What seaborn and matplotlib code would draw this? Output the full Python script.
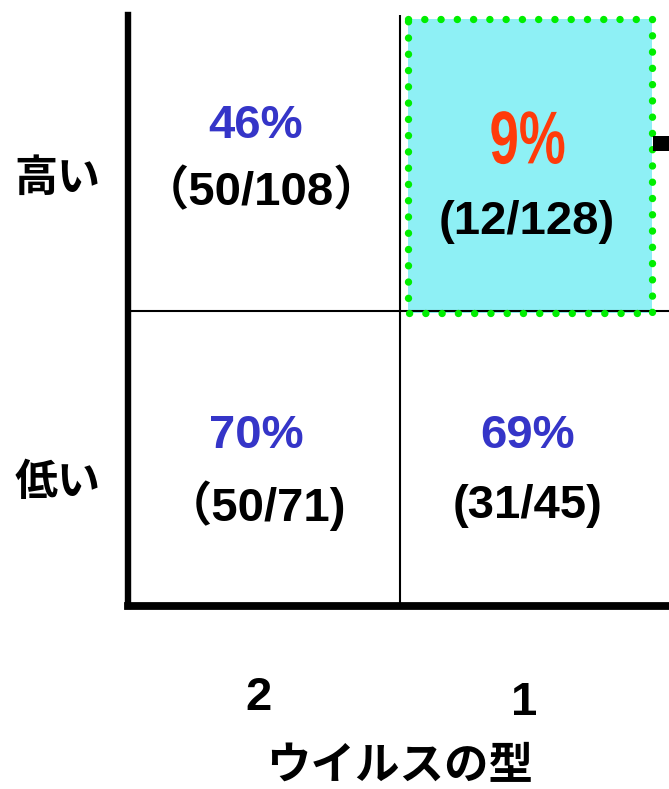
import numpy as np
import pandas as pd
import matplotlib
matplotlib.use("Agg")
import matplotlib.pyplot as plt
import seaborn as sns
from matplotlib.colors import ListedColormap
from matplotlib.patches import Rectangle, PathPatch
from matplotlib.textpath import TextPath
from matplotlib.font_manager import FontProperties
from matplotlib.transforms import Affine2D, ScaledTranslation

# data
row_labels = ['高い', '低い']
col_labels = ['2', '1']
pct = [[46, 9], [70, 69]]
num = [[50, 12], [50, 31]]
den = [[108, 128], [71, 45]]
highlight = [[0, 1], [0, 0]]
xlabel = 'ウイルスの型'

sns.set_style("white")
plt.rcParams['font.family'] = ['Liberation Sans', 'Noto Sans CJK JP', 'DejaVu Sans']
plt.rcParams['text.color'] = 'black'

fig = plt.figure(figsize=(6.69, 7.89), dpi=100)
ax = fig.add_axes([128/669, 1-606/789, 544/669, 591/789])

grid = pd.DataFrame(np.zeros((2, 2)), index=row_labels, columns=col_labels)
sns.heatmap(grid, cmap=ListedColormap(['white']), cbar=False, ax=ax)


def narrow_text(ax, x, y, s, w_px, h_px, color):
    # condensed-looking text: glyph outline stretched to a given pixel box
    tp = TextPath((0, 0), s, size=100, prop=FontProperties(family='Liberation Sans', weight='bold'))
    ext = tp.get_extents()
    tr = (Affine2D().translate(-(ext.x0 + ext.x1) / 2, -(ext.y0 + ext.y1) / 2)
          .scale(w_px / ext.width, h_px / ext.height)
          + ScaledTranslation(x, y, ax.transData))
    ax.add_patch(PathPatch(tp, transform=tr, facecolor=color, edgecolor='none',
                           zorder=5, clip_on=False))


# highlighted cell
for i in range(2):
    for j in range(2):
        if highlight[i][j]:
            ax.add_patch(Rectangle((j + 0.03, i + 0.014), 0.896, 0.993,
                                   facecolor='#8ef0f5', edgecolor='none', zorder=1))
            ax.add_patch(Rectangle((j + 0.03, i + 0.014), 0.896, 0.993,
                                   facecolor='none', edgecolor='#00ee00', lw=5.3,
                                   linestyle=(0, (0.01, 2.2)), capstyle='round',
                                   zorder=4, clip_on=False))

# dividers
ax.axhline(1, color='black', lw=1.5, zorder=3)
ax.axvline(1, color='black', lw=1.5, zorder=3)

for side in ['top', 'right']:
    ax.spines[side].set_visible(False)
for side in ['left', 'bottom']:
    ax.spines[side].set_visible(True)
    ax.spines[side].set_color('black')
ax.spines['left'].set_linewidth(4.6)
ax.spines['bottom'].set_linewidth(5.6)

# cell texts
for i in range(2):
    for j in range(2):
        if highlight[i][j]:
            narrow_text(ax, j + 0.47, i + 0.415, f'{pct[i][j]}%', 73, 53, '#ff3b0a')
            ax.text(j + 0.467, i + 0.70, f'({num[i][j]}/{den[i][j]})', ha='center',
                    va='center', fontsize=34, fontweight='bold', zorder=5)
        else:
            if j == 0 and i == 0:
                cnt = f'（{num[i][j]}/{den[i][j]}）'
            elif j == 0:
                cnt = f'（{num[i][j]}/{den[i][j]})'
            else:
                cnt = f'({num[i][j]}/{den[i][j]})'
            ax.text(j + 0.47, i + 0.375 + 0.05 * i, f'{pct[i][j]}%', ha='center',
                    va='center', fontsize=34, fontweight='bold', color='#3535c8', zorder=5)
            ax.text(j + 0.49 - 0.02 * i, i + 0.60 + 0.06 * i, cnt, ha='center',
                    va='center', fontsize=34, fontweight='bold', zorder=5)

# arrow stub at the right edge
ax.add_patch(Rectangle((1.93, 0.41), 0.08, 0.05, facecolor='black',
                       edgecolor='none', clip_on=False, zorder=5))

ax.set_xticks([])
ax.set_yticks([])
ax.set_xlabel('')
ax.set_ylabel('')

for i, lab in enumerate(row_labels):
    ax.text(-0.26, i + 0.55 + 0.03 * i, lab, ha='center', va='center', fontsize=31,
            fontweight='bold', family=['Noto Sans CJK JP'])
for j, lab in enumerate(col_labels):
    ax.text(j + 0.478 - 0.022 * j, 2.313 + 0.015 * j, lab, ha='center', va='center',
            fontsize=34, fontweight='bold')
ax.text(1.0, 2.54, xlabel, ha='center', va='center', fontsize=32,
        fontweight='bold', family=['Noto Sans CJK JP'])

fig.savefig('out.png', dpi=100)
